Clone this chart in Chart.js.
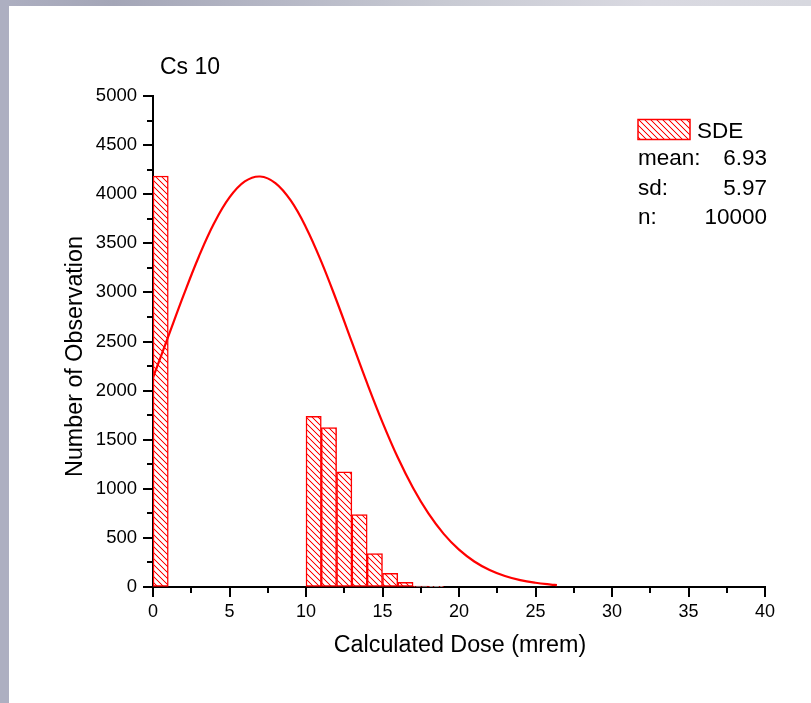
<!DOCTYPE html>
<html>
<head>
<meta charset="utf-8">
<script src="https://cdn.jsdelivr.net/npm/chart.js@4.4.1/dist/chart.umd.min.js"></script>
<style>
  html, body { margin: 0; padding: 0; background: #ffffff; width: 811px; height: 703px; overflow: hidden; }
  #topbar { position: absolute; left: 0; top: 0; width: 811px; height: 6px;
    background: linear-gradient(to right, #adafc1 0%, #a4a6b7 14%, #b6b8c6 35%, #c8cad3 55%, #d9d9e1 80%, #d7d8df 100%); }
  #leftbar { position: absolute; left: 0; top: 0; width: 9px; height: 703px; background: #adafc1; }
  #c { position: absolute; left: 9px; top: 6px; }
</style>
</head>
<body>
<div id="topbar"></div>
<div id="leftbar"></div>
<canvas id="c" width="802" height="697"></canvas>
<script>
// ---- data ----
const chartTitle = "Cs 10";
const xAxisTitle = "Calculated Dose (mrem)";
const yAxisTitle = "Number of Observation";
const seriesName = "SDE";

// histogram bins (bin centres, width 1 mrem) and counts
const binCenters = [0.5, 10.5, 11.5, 12.5, 13.5, 14.5, 15.5, 16.5, 17.5, 18.5];
const binCounts  = [4185, 1739, 1624, 1172, 738, 340, 140, 48, 10, 4];

// fitted normal curve
const curveX = [0, 1, 2, 3, 4, 5, 6, 7, 8, 9, 10, 11, 12, 13, 14, 15, 16, 17, 18, 19, 20, 21, 22, 23, 24, 25, 26, 26.4];
const curveY = [2131, 2552, 2972, 3366, 3706, 3967, 4130, 4180, 4113, 3936, 3662, 3314, 2915, 2493, 2073, 1677, 1318, 1008, 749, 541, 380, 260, 173, 112, 70, 43, 25, 20];

// statistics box
const statLabels = ["mean:", "sd:", "n:"];
const statValues = ["6.93", "5.97", "10000"];

// axes
const xMin = 0, xMax = 40, xStep = 5, xMinor = 2.5;
const yMin = 0, yMax = 5000, yStep = 500, yMinor = 250;

// ---- drawing ----
const RED = "#ff0000";
const FONT = "'Liberation Sans', Arial, sans-serif";

function makeHatch() {
  const s = 6;
  const pc = document.createElement("canvas");
  pc.width = s; pc.height = s;
  const g = pc.getContext("2d");
  const img = g.createImageData(s, s);
  for (let y = 0; y < s; y++) {
    for (let x = 0; x < s; x++) {
      const i = (y * s + x) * 4;
      const d = ((x - y) % s + s) % s;
      if (d === 0) {
        img.data[i] = 255; img.data[i + 1] = 0; img.data[i + 2] = 0;
      } else if (d === 1 || d === s - 1) {
        img.data[i] = 255; img.data[i + 1] = 205; img.data[i + 2] = 205;
      } else {
        img.data[i] = 255; img.data[i + 1] = 255; img.data[i + 2] = 255;
      }
      img.data[i + 3] = 255;
    }
  }
  g.putImageData(img, 0, 0);
  const ctx = document.getElementById("c").getContext("2d");
  return ctx.createPattern(pc, "repeat");
}
const hatch = makeHatch();

const barData = binCenters.map((x, i) => ({ x: x, y: binCounts[i] }));
const lineData = curveX.map((x, i) => ({ x: x, y: curveY[i] }));

const decorPlugin = {
  id: "decor",
  afterDraw(chart) {
    const ctx = chart.ctx;
    const xs = chart.scales.x, ys = chart.scales.y;
    const left = chart.chartArea.left, bottom = chart.chartArea.bottom;
    ctx.save();
    // tick marks (outside)
    ctx.strokeStyle = "#000";
    ctx.lineWidth = 2;
    ctx.beginPath();
    for (let v = yMin; v <= yMax + 1e-9; v += yMinor) {
      const p = Math.round(ys.getPixelForValue(v));
      const len = (v % yStep === 0) ? 10 : 6;
      ctx.moveTo(left - len, p); ctx.lineTo(left, p);
    }
    for (let v = xMin; v <= xMax + 1e-9; v += xMinor) {
      const p = Math.round(xs.getPixelForValue(v));
      const len = (v % xStep === 0) ? 10 : 6;
      ctx.moveTo(p, bottom); ctx.lineTo(p, bottom + len);
    }
    ctx.stroke();

    ctx.fillStyle = "#000";
    // chart title
    ctx.font = "23px " + FONT;
    ctx.textAlign = "left";
    ctx.textBaseline = "alphabetic";
    ctx.fillText(chartTitle, 151, 67.5);

    // x axis title
    ctx.font = "23.3px " + FONT;
    ctx.textAlign = "center";
    ctx.fillText(xAxisTitle, (chart.chartArea.left + chart.chartArea.right) / 2 + 1, 645.5);

    // y axis title
    ctx.save();
    ctx.translate(72.5, 350.5);
    ctx.rotate(-Math.PI / 2);
    ctx.textAlign = "center";
    ctx.textBaseline = "alphabetic";
    ctx.fillText(yAxisTitle, 0, 0);
    ctx.restore();

    // legend / stats box
    ctx.fillStyle = hatch;
    ctx.fillRect(629, 113.5, 52, 20);
    ctx.strokeStyle = RED;
    ctx.lineWidth = 1.5;
    ctx.strokeRect(629, 113.5, 52, 20);
    ctx.fillStyle = "#000";
    ctx.font = "22.5px " + FONT;
    ctx.textAlign = "left";
    ctx.fillText(seriesName, 688, 131.5);
    const baselines = [159, 188.5, 218];
    for (let i = 0; i < statLabels.length; i++) {
      ctx.textAlign = "left";
      ctx.fillText(statLabels[i], 629, baselines[i]);
      ctx.textAlign = "right";
      ctx.fillText(statValues[i], 758, baselines[i]);
    }
    ctx.restore();
  }
};

new Chart(document.getElementById("c"), {
  type: "bar",
  data: {
    datasets: [
      {
        type: "line",
        label: "fit",
        data: lineData,
        borderColor: RED,
        borderWidth: 2.2,
        pointRadius: 0,
        tension: 0.4,
        fill: false,
        order: 0
      },
      {
        type: "bar",
        label: seriesName,
        data: barData,
        backgroundColor: hatch,
        hoverBackgroundColor: hatch,
        borderColor: RED,
        borderWidth: 1.5,
        borderSkipped: false,
        barPercentage: 1,
        categoryPercentage: 1,
        order: 1
      }
    ]
  },
  options: {
    responsive: false,
    animation: false,
    events: [],
    layout: { padding: { left: 0, top: 90, right: 46, bottom: 76 } },
    plugins: { legend: { display: false }, tooltip: { enabled: false }, title: { display: false } },
    scales: {
      x: {
        type: "linear",
        min: xMin, max: xMax,
        offset: false,
        grid: { display: true, drawOnChartArea: false, drawTicks: false, offset: false },
        border: { display: true, color: "#000", width: 2 },
        ticks: { stepSize: xStep, color: "#000", font: { family: FONT, size: 18 }, padding: 14, maxRotation: 0,
                 callback: (v) => String(v) },
        afterFit: (s) => { s.height = 40; }
      },
      y: {
        type: "linear",
        min: yMin, max: yMax,
        grid: { display: true, drawOnChartArea: false, drawTicks: false },
        border: { display: true, color: "#000", width: 2 },
        ticks: { stepSize: yStep, color: "#000", font: { family: FONT, size: 18.5 }, padding: 16,
                 callback: (v) => String(v) },
        afterFit: (s) => { s.width = 144; }
      }
    }
  },
  plugins: [decorPlugin]
});
</script>
</body>
</html>
